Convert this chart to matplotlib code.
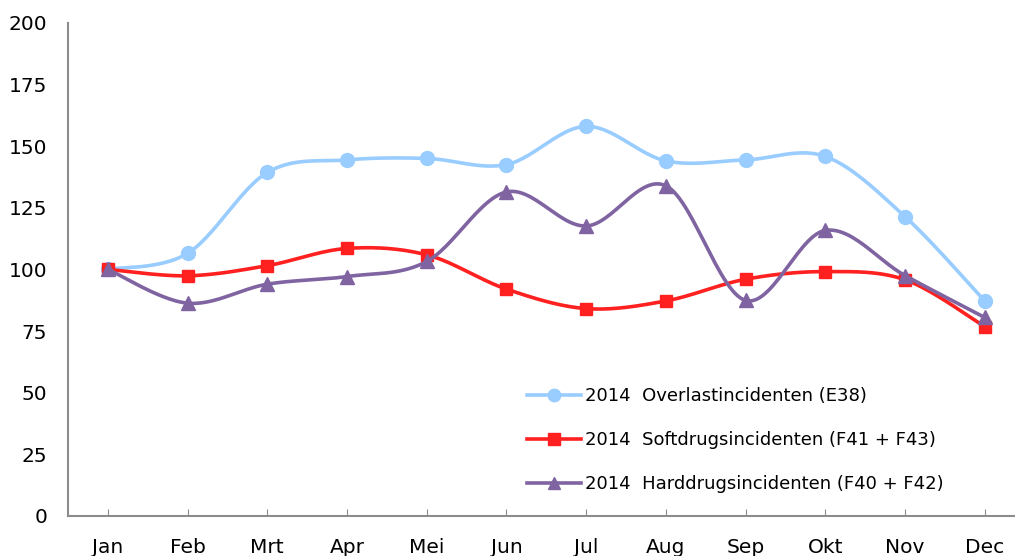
import numpy as np
import matplotlib
matplotlib.use("Agg")
import matplotlib.pyplot as plt

months = ["Jan", "Feb", "Mrt", "Apr", "Mei", "Jun", "Jul", "Aug", "Sep", "Okt", "Nov", "Dec"]
overlast = [100, 106.5, 139.3, 144.4, 145.0, 142.5, 158.0, 144.0, 144.4, 145.8, 121.4, 87.2]
softdrugs = [100, 97.4, 101.5, 108.5, 105.9, 92.0, 84.1, 87.2, 96.0, 99.1, 95.8, 76.8]
harddrugs = [100, 86.3, 94.0, 97.1, 103.2, 131.4, 117.6, 133.9, 87.4, 115.8, 97.5, 80.5]

labels = ["2014  Overlastincidenten (E38)",
          "2014  Softdrugsincidenten (F41 + F43)",
          "2014  Harddrugsincidenten (F40 + F42)"]


def smooth(xs, ys, n=30):
    # Catmull-Rom style smoothing, like a spreadsheet "smoothed line"
    xs = np.asarray(xs, float)
    ys = np.asarray(ys, float)
    px = np.concatenate([[xs[0]], xs, [xs[-1]]])
    py = np.concatenate([[ys[0]], ys, [ys[-1]]])
    outx, outy = [], []
    t = np.linspace(0, 1, n)
    for i in range(1, len(px) - 2):
        p0, p1, p2, p3 = (np.array([px[j], py[j]]) for j in (i - 1, i, i + 1, i + 2))
        c1 = p1 + (p2 - p0) / 6
        c2 = p2 - (p3 - p1) / 6
        b = ((1 - t) ** 3)[:, None] * p1 + (3 * (1 - t) ** 2 * t)[:, None] * c1 \
            + (3 * (1 - t) * t ** 2)[:, None] * c2 + (t ** 3)[:, None] * p2
        outx.extend(b[:, 0])
        outy.extend(b[:, 1])
    return outx, outy


plt.rcParams['font.family'] = ['DejaVu Sans']

fig = plt.figure(figsize=(10.15, 5.56), dpi=100)
ax = fig.add_axes([0.067, 0.072, 0.933, 0.887])

x = np.arange(len(months))
series = [
    (overlast, "#99CCFF", "o", 10),
    (softdrugs, "#FF2020", "s", 9),
    (harddrugs, "#8064A2", "^", 10),
]
handles = []
for (vals, color, marker, ms), label in zip(series, labels):
    sx, sy = smooth(x, vals)
    ax.plot(sx, sy, color=color, linewidth=2.6, solid_capstyle='round')
    ax.plot(x, vals, linestyle='none', marker=marker, markersize=ms, color=color)
    h, = ax.plot([], [], color=color, linewidth=2.6, marker=marker, markersize=ms * 0.9, label=label)
    handles.append(h)

ax.set_xlim(-0.5, 11.38)
ax.set_ylim(0, 200)
ax.set_yticks(range(0, 201, 25))
ax.set_xticks(x)
ax.set_xticklabels(months)

for s in ['top', 'right']:
    ax.spines[s].set_visible(False)
for s in ['left', 'bottom']:
    ax.spines[s].set_color('#8c8c8c')
    ax.spines[s].set_linewidth(1.5)

ax.tick_params(axis='y', length=0, pad=15, labelsize=14.5)
ax.tick_params(axis='x', direction='in', length=5, color='#8c8c8c', pad=16, labelsize=14.5)

ax.legend(handles=handles, loc='upper left', bbox_to_anchor=(0.503, 0.333),
          bbox_transform=fig.transFigure, frameon=False, fontsize=13,
          handlelength=3.0, handletextpad=0.2, labelspacing=1.45)

fig.savefig("out.png", dpi=100)
